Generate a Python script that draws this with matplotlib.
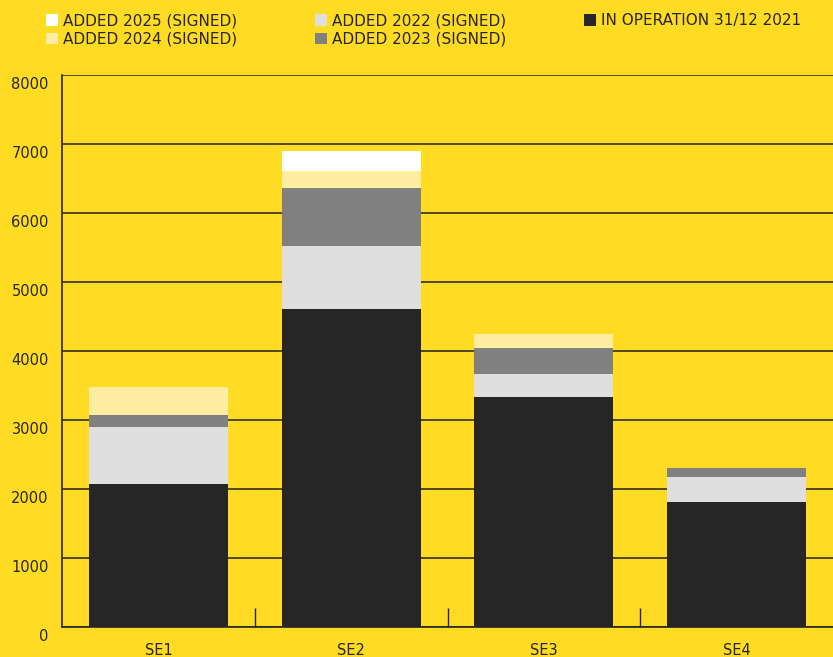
import matplotlib.pyplot as plt
from matplotlib.patches import Patch
from matplotlib.transforms import ScaledTranslation

regions = ["SE1", "SE2", "SE3", "SE4"]
# MW per region, stacked from the bottom up
in_operation_2021 = [2070, 4610, 3330, 1810]
added_2022 = [830, 910, 335, 360]
added_2023 = [170, 840, 375, 130]
added_2024 = [410, 250, 200, 0]
added_2025 = [0, 290, 0, 0]

series = [
    ("IN OPERATION 31/12 2021", in_operation_2021, "#262626"),
    ("ADDED 2022 (SIGNED)", added_2022, "#dfdfdf"),
    ("ADDED 2023 (SIGNED)", added_2023, "#808080"),
    ("ADDED 2024 (SIGNED)", added_2024, "#ffeea2"),
    ("ADDED 2025 (SIGNED)", added_2025, "#ffffff"),
]

bg = "#ffdc23"
dark = "#262626"

plt.rcParams['font.family'] = ['DejaVu Sans']

fig = plt.figure(figsize=(8.33, 6.57), dpi=100, facecolor=bg)
ax = fig.add_axes([62 / 833, 1 - 627 / 657, 1 - 62 / 833, (627 - 75) / 657])
ax.set_facecolor(bg)

x = list(range(len(regions)))
bottom = [0] * len(regions)
handles = {}
for label, values, color in series:
    ax.bar(x, values, bottom=bottom, width=0.72, color=color, zorder=3)
    bottom = [b + v for b, v in zip(bottom, values)]
    handles[label] = Patch(facecolor=color, label=label)

ax.set_xlim(-0.5, 3.5)
ax.set_ylim(0, 8000)
ax.set_yticks(range(0, 8001, 1000))
ax.grid(axis="y", color="#33301f", linewidth=1.2, zorder=0)

ax.set_xticks(x)
ax.set_xticklabels(regions)
ax.set_xticks([0.5, 1.5, 2.5], minor=True)
ax.tick_params(axis="x", which="major", length=0, pad=11.5, labelsize=10.5, colors=dark)
ax.tick_params(axis="x", which="minor", length=14, direction="in", width=1, color=dark)
ax.tick_params(axis="y", length=0, pad=9.5, labelsize=10.5, colors=dark)

# y labels sit a little below their grid lines
shift = ScaledTranslation(0, -8 / 100, fig.dpi_scale_trans)
for lab in ax.get_yticklabels():
    lab.set_transform(lab.get_transform() + shift)

for side in ["top", "right"]:
    ax.spines[side].set_visible(False)
for side in ["left", "bottom"]:
    ax.spines[side].set_color(dark)
    ax.spines[side].set_linewidth(1.2)

order = ["ADDED 2025 (SIGNED)", "ADDED 2024 (SIGNED)",
         "ADDED 2022 (SIGNED)", "ADDED 2023 (SIGNED)",
         "IN OPERATION 31/12 2021"]
leg = fig.legend([handles[k] for k in order], order, ncol=3, loc="upper left",
                 bbox_to_anchor=(46 / 833, 1 - 13 / 657), frameon=False,
                 borderpad=0, borderaxespad=0, handlelength=0.8, handleheight=0.8,
                 handletextpad=0.3, columnspacing=5.1, labelspacing=0.25,
                 fontsize=11)
for t in leg.get_texts():
    t.set_color(dark)

fig.savefig("out.png", dpi=100, facecolor=bg)
